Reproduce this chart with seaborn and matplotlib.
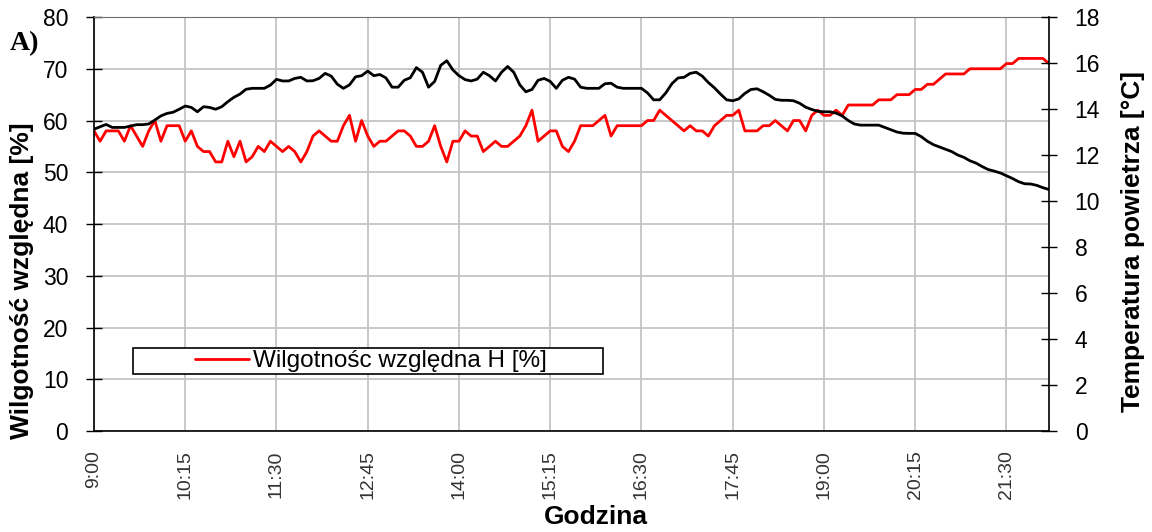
import matplotlib.pyplot as plt
import numpy as np
import pandas as pd
import seaborn as sns
from matplotlib.patches import Rectangle

# humidity [%] and air temperature [degC], 5-minute readings from 9:00
humidity = [
    58, 56, 58, 58, 58, 56, 59, 57, 55, 58,
    60, 56, 59, 59, 59, 56, 58, 55, 54, 54,
    52, 52, 56, 53, 56, 52, 53, 55, 54, 56,
    55, 54, 55, 54, 52, 54, 57, 58, 57, 56,
    56, 59, 61, 56, 60, 57, 55, 56, 56, 57,
    58, 58, 57, 55, 55, 56, 59, 55, 52, 56,
    56, 58, 57, 57, 54, 55, 56, 55, 55, 56,
    57, 59, 62, 56, 57, 58, 58, 55, 54, 56,
    59, 59, 59, 60, 61, 57, 59, 59, 59, 59,
    59, 60, 60, 62, 61, 60, 59, 58, 59, 58,
    58, 57, 59, 60, 61, 61, 62, 58, 58, 58,
    59, 59, 60, 59, 58, 60, 60, 58, 61, 62,
    61, 61, 62, 61, 63, 63, 63, 63, 63, 64,
    64, 64, 65, 65, 65, 66, 66, 67, 67, 68,
    69, 69, 69, 69, 70, 70, 70, 70, 70, 70,
    71, 71, 72, 72, 72, 72, 72, 71,
]
temperature = [
    13.12, 13.23, 13.33, 13.2, 13.2, 13.2, 13.26, 13.32, 13.32, 13.35,
    13.52, 13.7, 13.81, 13.86, 13.99, 14.13, 14.07, 13.88, 14.1, 14.07,
    13.99, 14.1, 14.32, 14.51, 14.65, 14.86, 14.9, 14.9, 14.9, 15.04,
    15.29, 15.22, 15.22, 15.33, 15.38, 15.22, 15.23, 15.33, 15.55, 15.43,
    15.08, 14.9, 15.05, 15.4, 15.45, 15.65, 15.45, 15.5, 15.35, 14.95,
    14.95, 15.25, 15.36, 15.8, 15.6, 14.95, 15.2, 15.9, 16.1, 15.7,
    15.45, 15.28, 15.22, 15.3, 15.6, 15.45, 15.22, 15.6, 15.85, 15.6,
    15.05, 14.75, 14.85, 15.25, 15.33, 15.2, 14.9, 15.25, 15.38, 15.3,
    14.95, 14.9, 14.9, 14.9, 15.1, 15.12, 14.95, 14.9, 14.9, 14.9,
    14.9, 14.7, 14.4, 14.4, 14.7, 15.1, 15.35, 15.38, 15.55, 15.6,
    15.43, 15.15, 14.92, 14.65, 14.4, 14.36, 14.44, 14.68, 14.85, 14.88,
    14.75, 14.6, 14.42, 14.38, 14.38, 14.36, 14.25, 14.08, 13.98, 13.9,
    13.88, 13.88, 13.82, 13.7, 13.5, 13.35, 13.3, 13.3, 13.3, 13.3,
    13.2, 13.1, 13.0, 12.95, 12.94, 12.94, 12.8, 12.6, 12.45, 12.35,
    12.25, 12.15, 12.0, 11.9, 11.75, 11.65, 11.5, 11.37, 11.3, 11.22,
    11.1, 10.98, 10.84, 10.75, 10.74, 10.68, 10.58, 10.5,
]
time_labels = ["9:00", "10:15", "11:30", "12:45", "14:00", "15:15",
               "16:30", "17:45", "19:00", "20:15", "21:30"]
humidity_ticks = list(range(0, 81, 10))
temperature_ticks = list(range(0, 19, 2))
STEP_MIN = 5
LEGEND_LABEL = "Wilgotnośc względna H [%]"

sns.set_style("white")
plt.rcParams["font.family"] = ["Liberation Sans", "DejaVu Sans"]
plt.rcParams["text.color"] = "black"
plt.rcParams["axes.labelcolor"] = "black"

df = pd.DataFrame({
    "minuty": np.arange(len(humidity)) * STEP_MIN,
    "H": humidity,
    "T": temperature,
})

fig, ax = plt.subplots(figsize=(11.52, 5.32), dpi=100)
fig.subplots_adjust(left=0.0816, right=0.9106, bottom=0.1898, top=0.968)

sns.lineplot(data=df, x="minuty", y="H", color="#ff0000", linewidth=2.0,
             ax=ax, legend=False, label=LEGEND_LABEL)
ax2 = ax.twinx()
sns.lineplot(data=df, x="minuty", y="T", color="black", linewidth=2.0,
             ax=ax2, legend=False)

# axes ranges and ticks
ax.set_xlim(0, (len(humidity) - 1) * STEP_MIN)
ax.set_xticks(np.arange(len(time_labels)) * 75)
ax.set_xticklabels(time_labels)
ax.set_ylim(0, 80)
ax.set_yticks(humidity_ticks)
ax2.set_ylim(0, 18)
ax2.set_yticks(temperature_ticks)

ax.tick_params(axis="y", direction="inout", length=12, width=1, pad=12.5,
               labelsize=16.5, colors="black")
ax.tick_params(axis="x", direction="inout", length=10, width=1, pad=9,
               labelsize=14, labelrotation=90, colors="black", labelcolor="#333333")
ax2.tick_params(axis="y", direction="inout", length=12, width=1, pad=12.5,
                labelsize=16.5, colors="black")

ax.grid(True, color="#c4c4c4", linewidth=1.3)
ax.set_axisbelow(True)
ax2.grid(False)

for side in ["left", "bottom"]:
    ax.spines[side].set_color("black")
    ax.spines[side].set_linewidth(1.2)
ax.spines["right"].set_visible(False)
ax.spines["top"].set_color("#707070")
ax2.spines["right"].set_color("black")
ax2.spines["right"].set_linewidth(1.2)
for side in ["left", "bottom", "top"]:
    ax2.spines[side].set_visible(False)

# axis titles
ax.set_ylabel("Wilgotność względna [%]", fontsize=19, fontweight="bold", va="center")
ax.yaxis.set_label_coords(-0.0754, 0.362)
ax2.set_ylabel("Temperatura powietrza [°C]", fontsize=19, fontweight="bold",
               rotation=90, va="center")
ax2.yaxis.set_label_coords(1.088, 0.457)
ax.set_xlabel("Godzina", fontsize=19, fontweight="bold")
ax.xaxis.set_label_coords(0.5257, -0.178)

# legend box (only the humidity series is listed)
ax2.add_patch(Rectangle((0.0408, 0.1377), 0.4922, 0.0628, transform=ax2.transAxes,
                        facecolor="white", edgecolor="black", linewidth=1.2, zorder=5))
leg = ax2.legend(handles=[ax.lines[0]], labels=[LEGEND_LABEL], loc="center",
                 bbox_to_anchor=(0.290, 0.169), frameon=False, fontsize=17.5,
                 handlelength=2.2, handletextpad=0.17, borderpad=0.1)
leg.set_zorder(6)

fig.text(10 / 1152, 1 - 50 / 532, "A)", fontsize=20, fontweight="bold",
         family=["Liberation Serif", "DejaVu Serif"], va="baseline")

fig.savefig("out.png", dpi=100)
